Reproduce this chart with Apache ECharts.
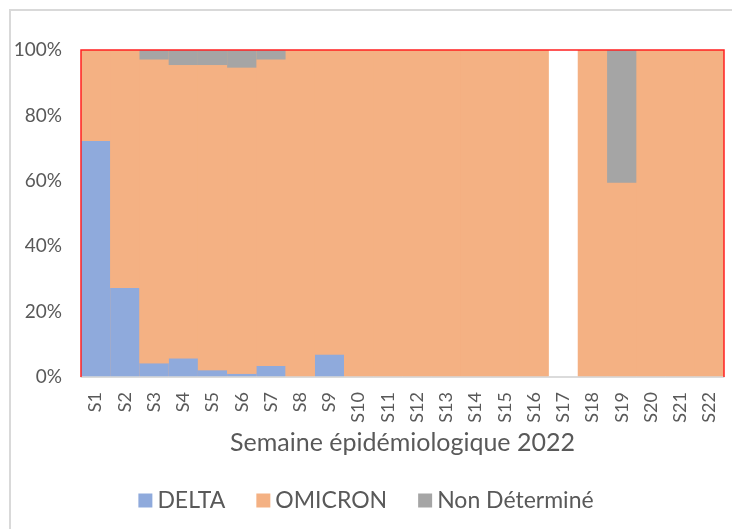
<!DOCTYPE html>
<html>
<head>
<meta charset="utf-8">
<script src="https://cdn.jsdelivr.net/npm/echarts@6/dist/echarts.min.js"></script>
<style>
  html, body { margin: 0; padding: 0; background: #fff; }
  #chart { width: 732px; height: 529px; }
</style>
</head>
<body>
<div id="chart"></div>
<script>
// semaines
const weeks = ['S1','S2','S3','S4','S5','S6','S7','S8','S9','S10','S11',
  'S12','S13','S14','S15','S16','S17','S18','S19','S20','S21','S22'];
// parts en %
const delta = [72.2, 27.2, 4.2, 5.7, 2.1, 1.0, 3.4, 0, 6.9, 0, 0,
  0, 0, 0, 0, 0, 0, 0, 0, 0, 0, 0];
const nonDetermine = [0, 0, 2.9, 4.6, 4.6, 5.4, 2.9, 0, 0, 0, 0,
  0, 0, 0, 0, 0, 0, 0, 40.6, 0, 0, 0];
// S17 : pas de donnees
const noData = ['S17'];
const omicron = weeks.map((w, i) =>
  noData.includes(w) ? 0 : +(100 - delta[i] - nonDetermine[i]).toFixed(1));
const yTicks = [0, 20, 40, 60, 80, 100];

const txt = '#595959';
const font = 'Lato';
const orange = '#f4b183';
const g = { left: 81, top: 50, right: 8, bottom: 152 };

function bar(name, data, color) {
  return {
    name: name, type: 'bar', stack: 'v', data: data,
    barWidth: '100%', barCategoryGap: '0%',
    itemStyle: { color: color }
  };
}

const chart = echarts.init(document.getElementById('chart'));
chart.setOption({
  animation: false,
  textStyle: { fontFamily: font, color: txt },
  // fond orange sous les barres pour cacher les joints entre colonnes
  grid: { left: g.left, top: g.top, right: g.right, bottom: g.bottom,
    show: true, backgroundColor: orange, borderWidth: 0 },
  legend: {
    top: 484,
    left: 'center',
    itemWidth: 14, itemHeight: 14, itemGap: 31,
    icon: 'rect',
    textStyle: { fontSize: 23, color: txt, fontFamily: font },
    data: ['DELTA', 'OMICRON', 'Non Déterminé']
  },
  xAxis: {
    type: 'category',
    data: weeks,
    z: 1,
    name: 'Semaine épidémiologique 2022',
    nameLocation: 'middle',
    nameGap: 53,
    nameTextStyle: { fontSize: 25, color: txt, fontFamily: font },
    axisTick: { show: false },
    splitLine: { show: false },
    // semaine sans donnees laissee en blanc
    splitArea: { show: true, interval: 0,
      areaStyle: { color: weeks.map(w => noData.includes(w) ? '#ffffff' : 'rgba(0,0,0,0)') } },
    axisLine: { lineStyle: { color: '#d9d9d9', width: 1.5 } },
    axisLabel: { rotate: 90, fontSize: 18, color: txt, margin: 15, fontFamily: font }
  },
  yAxis: {
    type: 'value',
    min: yTicks[0], max: yTicks[yTicks.length - 1], interval: 20,
    axisLabel: { formatter: '{value}%', fontSize: 19, color: txt, margin: 19, fontFamily: font },
    splitLine: { show: false },
    axisLine: { show: false },
    axisTick: { show: false }
  },
  series: [
    bar('DELTA', delta, '#8faadc'),
    bar('OMICRON', omicron, orange),
    bar('Non Déterminé', nonDetermine, '#a5a5a5')
  ],
  graphic: [
    { type: 'rect', z: 0, silent: true,
      shape: { x: 10, y: 10, width: 740, height: 540 },
      style: { fill: 'none', stroke: '#d9d9d9', lineWidth: 2 } },
    { type: 'line', z: 100, silent: true,
      shape: { x1: g.left, y1: 377, x2: 732 - g.right, y2: 377 },
      style: { stroke: '#d9d9d9', lineWidth: 1.5 } },
    { type: 'polyline', z: 100, silent: true,
      shape: { points: [[g.left, 377], [g.left, g.top], [732 - g.right, g.top], [732 - g.right, 377]] },
      style: { fill: 'none', stroke: '#ff2020', lineWidth: 1.5 } }
  ]
});
</script>
</body>
</html>
